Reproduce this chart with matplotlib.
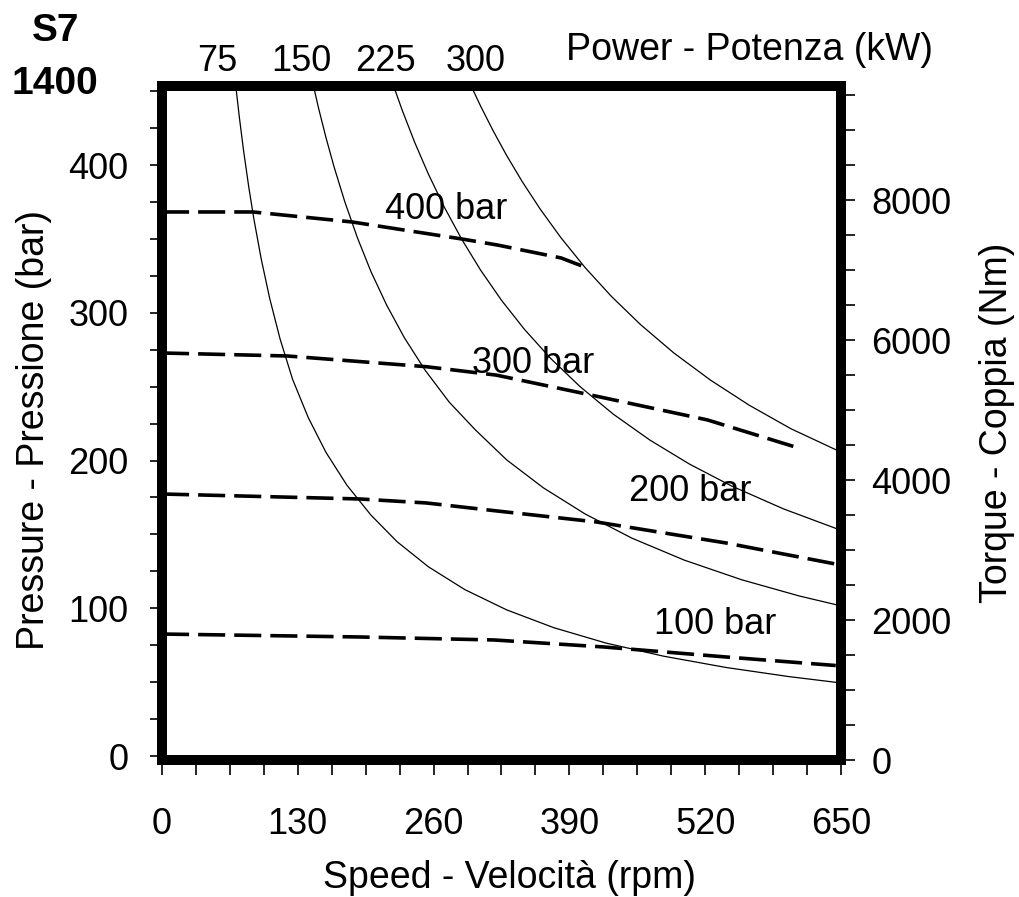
'''
S7 1400 motor: pressure / torque / power vs speed
'''
import matplotlib
matplotlib.use('Agg')
import matplotlib.pyplot as plt
from matplotlib.ticker import MultipleLocator
from matplotlib.transforms import blended_transform_factory

plt.rcParams['font.family'] = ['Liberation Sans', 'DejaVu Sans']

# power curves (kW) - speed in rpm, torque in Nm
power_labels = ['75', '150', '225', '300']
speed_75kw = [70.5, 74, 78, 83, 88, 95, 103, 113, 125, 140, 157, 177, 200, 225,
              255, 290, 330, 375, 425, 480, 540, 600, 645]
torque_75kw = [9650, 9190, 8718, 8193, 7727, 7158, 6602, 6018, 5440, 4893, 4395,
               3927, 3500, 3120, 2761, 2434, 2145, 1891, 1671, 1484, 1322, 1192, 1110]
speed_150kw = [145, 150, 157, 165, 175, 187, 200, 215, 232, 252, 275, 300, 330,
               365, 405, 450, 500, 555, 610, 645]
torque_150kw = [9631, 9307, 8892, 8461, 7977, 7465, 6980, 6502, 6034, 5567, 5113,
                4717, 4288, 3890, 3516, 3169, 2856, 2575, 2344, 2220]
speed_225kw = [221.5, 230, 242, 255, 270, 287, 305, 325, 347, 372, 400, 432, 467,
               505, 545, 595, 645]
torque_225kw = [9639, 9283, 8822, 8373, 7907, 7439, 7000, 6569, 6153, 5739, 5338,
                4942, 4572, 4228, 3917, 3588, 3310]
speed_300kw = [296, 305, 317, 330, 345, 362, 382, 405, 430, 458, 490, 525, 562,
               602, 645]
torque_300kw = [9628, 9344, 8991, 8636, 8261, 7873, 7461, 7037, 6628, 6223, 5816,
                5429, 5071, 4734, 4434]

# pressure curves (bar) - torque delivered at each pressure
pressure_labels = ['400 bar', '300 bar', '200 bar', '100 bar']
speed_400bar = [0, 87, 182, 287, 321, 382, 407]
torque_400bar = [7831, 7831, 7688, 7445, 7359, 7174, 7031]
speed_300bar = [0, 120, 253, 320, 406, 522, 609]
torque_300bar = [5816, 5773, 5620, 5500, 5230, 4860, 4460]
speed_200bar = [0, 189, 253, 321, 416, 540, 645]
torque_200bar = [3801, 3730, 3673, 3558, 3401, 3101, 2800]
speed_100bar = [0, 189, 318, 423, 540, 645]
torque_100bar = [1800, 1758, 1715, 1615, 1472, 1350]

FS = 26

fig = plt.figure(figsize=(10.19, 8.97), dpi=100)
ax = fig.add_axes([162 / 1019, 1 - 760 / 897, 679 / 1019, 674 / 897])
ax2 = ax.twinx()

ax.set_xlim(0, 650)
ax.set_ylim(-2.7, 453.5)
ax2.set_ylim(0, 9631)

# thick frame
for sp in ax.spines.values():
    sp.set_linewidth(7.2)
    sp.set_capstyle('projecting')
for sp in ax2.spines.values():
    sp.set_visible(False)

ax.xaxis.set_major_locator(MultipleLocator(130))
ax.xaxis.set_minor_locator(MultipleLocator(32.5))
ax.yaxis.set_major_locator(MultipleLocator(100))
ax.yaxis.set_minor_locator(MultipleLocator(25))
ax2.yaxis.set_major_locator(MultipleLocator(2000))
ax2.yaxis.set_minor_locator(MultipleLocator(500))

ax.tick_params(axis='x', which='both', direction='out', length=11, width=1.2,
               pad=23, labelsize=FS)
ax.tick_params(axis='y', which='both', direction='out', length=9, width=1.2,
               pad=15, labelsize=FS)
ax2.tick_params(axis='y', which='both', direction='out', length=10, width=1.2,
                pad=12, labelsize=FS)

# power curves
power_speeds = [speed_75kw, speed_150kw, speed_225kw, speed_300kw]
power_torques = [torque_75kw, torque_150kw, torque_225kw, torque_300kw]
for sp_, tq in zip(power_speeds, power_torques):
    ax2.plot(sp_, tq, color='black', lw=0.9)

# pressure curves (dashed)
pressure_speeds = [speed_400bar, speed_300bar, speed_200bar, speed_100bar]
pressure_torques = [torque_400bar, torque_300bar, torque_200bar, torque_100bar]
for sp_, tq in zip(pressure_speeds, pressure_torques):
    ax2.plot(sp_, tq, color='black', lw=2.6, dashes=(7.5, 2.5))

# curve labels
bar_label_pos = [(213, 7860), (297, 5659), (447, 3830), (471, 1943)]
for label, (lx, ly) in zip(pressure_labels, bar_label_pos):
    ax2.text(lx, ly, label, fontsize=FS, ha='left', va='center')

top_trans = blended_transform_factory(ax.transData, ax.transAxes)
kw_label_x = [52.5, 133.6, 213.8, 300.7]
for label, lx in zip(power_labels, kw_label_x):
    ax.text(lx, 1.037, label, transform=top_trans, fontsize=FS,
            ha='center', va='center')

fig.text(750 / 1019, 1 - 50 / 897, 'Power - Potenza (kW)', fontsize=FS + 1,
         ha='center', va='center')
fig.text(510 / 1019, 1 - 878 / 897, 'Speed - Velocità (rpm)', fontsize=FS + 1,
         ha='center', va='center')
fig.text(34 / 1019, 1 - 430 / 897, 'Pressure - Pressione (bar)', fontsize=FS + 1,
         ha='center', va='center', rotation=90)
fig.text(997 / 1019, 1 - 423 / 897, 'Torque - Coppia (Nm)', fontsize=FS + 1,
         ha='center', va='center', rotation=90)

fig.text(56 / 1019, 1 - 31 / 897, 'S7', fontsize=28, fontweight='bold',
         ha='center', va='center')
fig.text(55 / 1019, 1 - 84 / 897, '1400', fontsize=28, fontweight='bold',
         ha='center', va='center')

fig.savefig('out.png', dpi=100)
